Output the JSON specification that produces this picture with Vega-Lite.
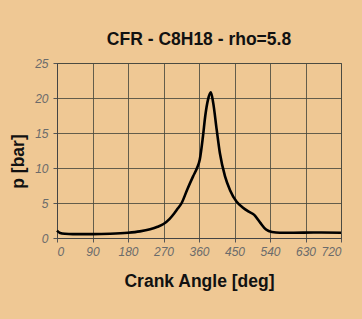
{
  "$schema": "https://vega.github.io/schema/vega-lite/v6.json",
  "width": 284,
  "height": 175,
  "autosize": {"type": "none"},
  "padding": {"left": 57, "top": 63, "right": 21, "bottom": 81},
  "background": "#EFC894",
  "title": {
    "text": "CFR - C8H18 - rho=5.8",
    "font": "Liberation Sans",
    "fontSize": 17.5,
    "fontWeight": "bold",
    "color": "#111111",
    "anchor": "middle",
    "offset": 9
  },
  "config": {
    "view": {"stroke": "#555555", "strokeWidth": 1},
    "axis": {
      "labelFont": "Liberation Sans",
      "labelFontStyle": "italic",
      "labelFontSize": 12,
      "labelColor": "#6b6b6b",
      "titleFont": "Liberation Sans",
      "titleFontSize": 17.5,
      "titleFontWeight": "bold",
      "titleColor": "#111111",
      "gridColor": "#4a4a3e",
      "gridOpacity": 0.85,
      "gridWidth": 1,
      "domainColor": "#444444",
      "tickColor": "#555555",
      "tickSize": 4
    }
  },
  "data": {
    "values": [
      {"angle": 0, "p": 1.05},
      {"angle": 8, "p": 0.72},
      {"angle": 20, "p": 0.6},
      {"angle": 40, "p": 0.55},
      {"angle": 90, "p": 0.55},
      {"angle": 135, "p": 0.6},
      {"angle": 180, "p": 0.75},
      {"angle": 210, "p": 0.95},
      {"angle": 236, "p": 1.25},
      {"angle": 255, "p": 1.6},
      {"angle": 270, "p": 2.0},
      {"angle": 285, "p": 2.7},
      {"angle": 297, "p": 3.5},
      {"angle": 306, "p": 4.2},
      {"angle": 316, "p": 5.0},
      {"angle": 330, "p": 6.9},
      {"angle": 345, "p": 8.8},
      {"angle": 355, "p": 10.0},
      {"angle": 362, "p": 11.2},
      {"angle": 370, "p": 14.5},
      {"angle": 376, "p": 17.5},
      {"angle": 383, "p": 19.8},
      {"angle": 390, "p": 20.8},
      {"angle": 396, "p": 19.3},
      {"angle": 405, "p": 15.4},
      {"angle": 413, "p": 12.1},
      {"angle": 426, "p": 8.8},
      {"angle": 439, "p": 6.8},
      {"angle": 455, "p": 5.2},
      {"angle": 470, "p": 4.4},
      {"angle": 485, "p": 3.8},
      {"angle": 500, "p": 3.3},
      {"angle": 515, "p": 2.2},
      {"angle": 530, "p": 1.2},
      {"angle": 545, "p": 0.85},
      {"angle": 565, "p": 0.75},
      {"angle": 600, "p": 0.75},
      {"angle": 650, "p": 0.78},
      {"angle": 720, "p": 0.75}
    ]
  },
  "mark": {"type": "line", "color": "#000000", "strokeWidth": 2.6, "interpolate": "monotone"},
  "encoding": {
    "x": {
      "field": "angle",
      "type": "quantitative",
      "title": "Crank Angle [deg]",
      "scale": {"domain": [0, 720], "nice": false},
      "axis": {"values": [0, 90, 180, 270, 360, 450, 540, 630, 720], "titlePadding": 15, "labelPadding": 4}
    },
    "y": {
      "field": "p",
      "type": "quantitative",
      "title": "p [bar]",
      "scale": {"domain": [0, 25], "nice": false},
      "axis": {"values": [0, 5, 10, 15, 20, 25], "titlePadding": 7, "labelPadding": 5, "titleY": 98}
    }
  }
}
